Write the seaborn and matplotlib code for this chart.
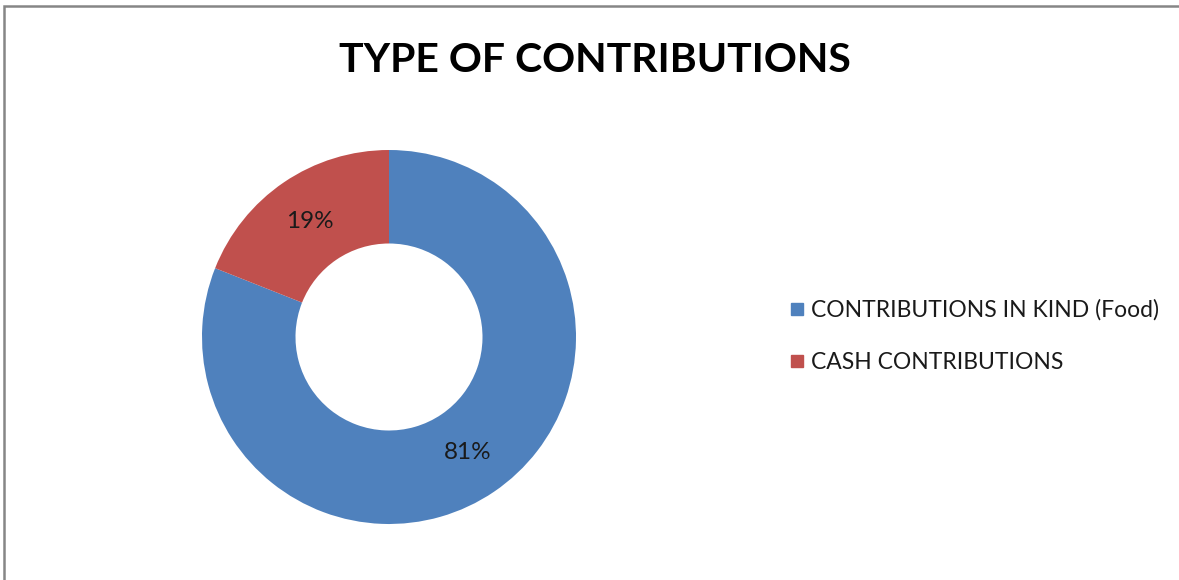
import matplotlib
matplotlib.use("Agg")
import matplotlib.pyplot as plt
import matplotlib.patches as mpatches
from matplotlib.lines import Line2D
import seaborn as sns

# Contribution breakdown
categories = ["CONTRIBUTIONS IN KIND (Food)", "CASH CONTRIBUTIONS"]
shares = [81, 19]
colors = ["#4F81BD", "#C0504D"]
title = "TYPE OF CONTRIBUTIONS"

sns.set_theme(style="white")
plt.rcParams["font.family"] = ["Lato", "DejaVu Sans"]

W, H = 1179, 580
fig = plt.figure(figsize=(W / 100, H / 100), dpi=100)
fig.patch.set_facecolor("white")

# Donut axes: centre (389, 337) px, outer radius 187 px
cx, cy, r = 389, 337, 187
ax = fig.add_axes([(cx - r) / W, (H - cy - r) / H, 2 * r / W, 2 * r / H])
wedges, texts, autotexts = ax.pie(
    shares,
    colors=colors,
    startangle=90,
    counterclock=False,
    radius=1.0,
    wedgeprops=dict(width=0.5, edgecolor="none"),
    autopct=lambda p: f"{p:.0f}%",
    pctdistance=0.75,
    textprops=dict(fontsize=17.5, color="#1a1a1a"),
)
ax.set_xlim(-1, 1)
ax.set_ylim(-1, 1)
ax.set_aspect("equal")
ax.axis("off")

fig.text(595 / W, 1 - 60 / H, title, ha="center", va="center",
         fontsize=29.5, fontweight="bold", color="black")

handles = [Line2D([0], [0], marker="s", linestyle="none", markersize=9,
                  markerfacecolor=c, markeredgecolor=c) for c in colors]
fig.legend(handles, categories, loc="center left",
           bbox_to_anchor=(775 / W, 1 - 336 / H), frameon=False,
           fontsize=16.5, handletextpad=0.15, labelspacing=1.35,
           handlelength=0.9, borderpad=0, labelcolor="#1a1a1a")

# Outer chart frame
frame = mpatches.Rectangle((4 / W, -0.1), 1.2, (H - 6) / H + 0.1,
                           transform=fig.transFigure, fill=False,
                           edgecolor="#868686", linewidth=1.8)
fig.patches.append(frame)

fig.savefig("out.png", dpi=100, facecolor="white")
